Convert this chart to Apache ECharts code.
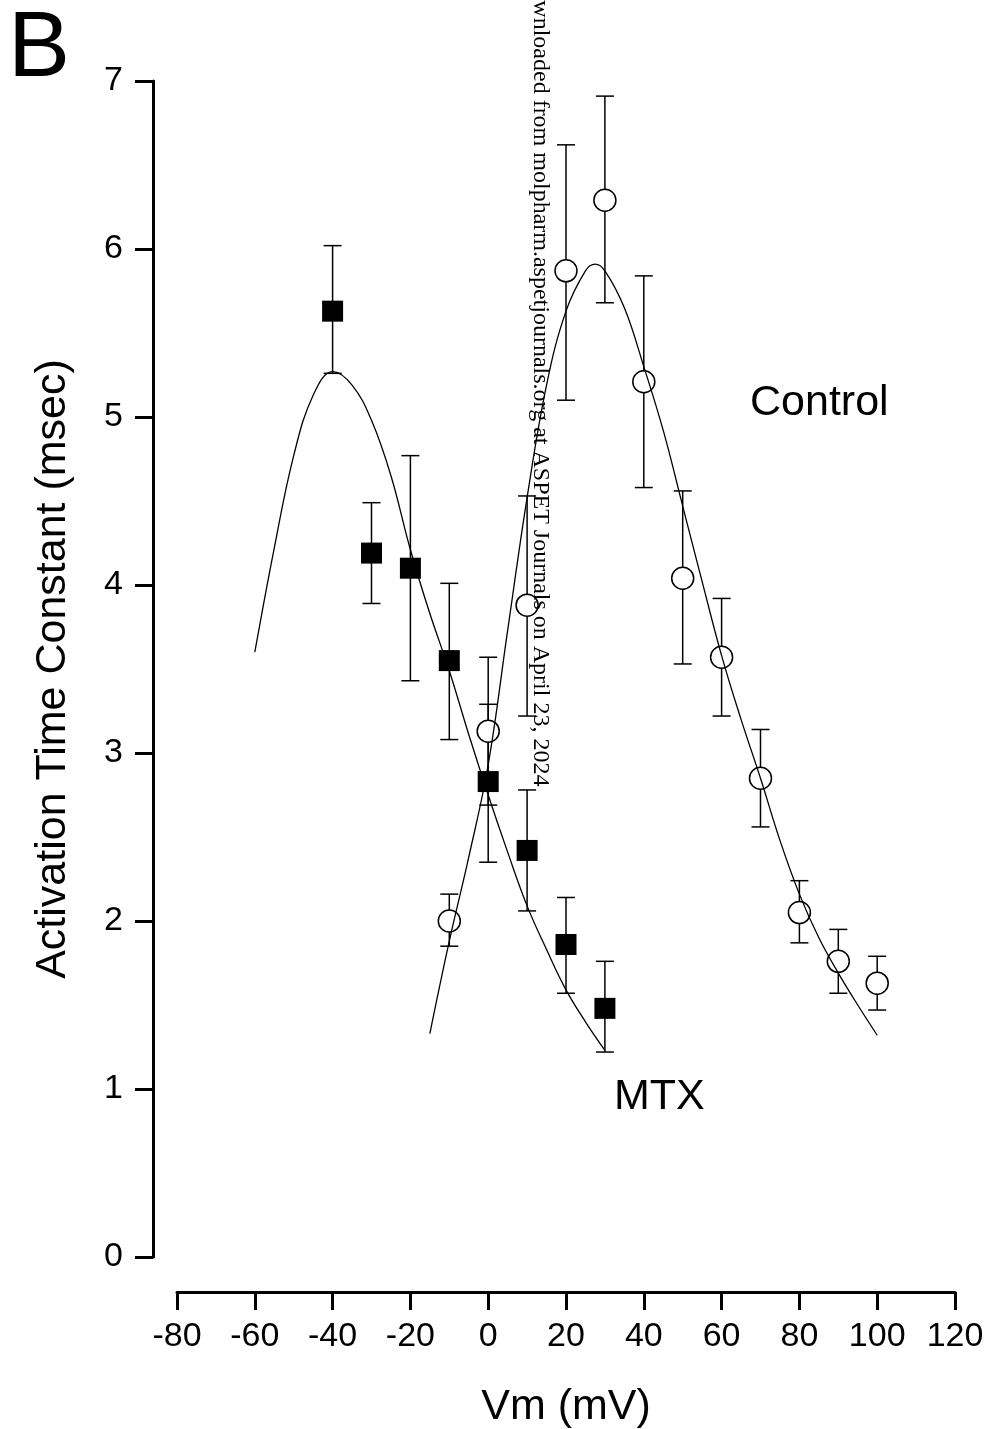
<!DOCTYPE html>
<html>
<head>
    <meta charset="utf-8">
    <title>Activation time constant vs Vm</title>
    <script src="https://cdn.jsdelivr.net/npm/echarts@6/dist/echarts.min.js"></script>
</head>
<body style="margin:0;background:#fff;">
<div id="main" style="width: 989px;height:1429px;"></div>
<script type="text/javascript">
    // MTX (filled squares)
    var mtxV = [-40, -30, -20, -10, 0, 10, 20, 30];
    var mtxTau = [5.63, 4.19, 4.10, 3.55, 2.83, 2.42, 1.86, 1.48];
    var mtxHi = [6.02, 4.49, 4.77, 4.01, 3.29, 2.78, 2.14, 1.76];
    var mtxLo = [5.26, 3.89, 3.43, 3.08, 2.35, 2.06, 1.57, 1.22];

    // Control (open circles)
    var ctlV = [-10, 0, 10, 20, 30, 40, 50, 60, 70, 80, 90, 100];
    var ctlTau = [2.00, 3.13, 3.88, 5.87, 6.29, 5.21, 4.04, 3.57, 2.85, 2.05, 1.76, 1.63];
    var ctlHi = [2.16, 3.57, 4.53, 6.62, 6.91, 5.84, 4.56, 3.92, 3.14, 2.24, 1.95, 1.79];
    var ctlLo = [1.85, 2.69, 3.22, 5.10, 5.68, 4.58, 3.53, 3.22, 2.56, 1.87, 1.57, 1.47];

    // fitted curves
    var mtxFitV = [-60, -55, -50, -45, -40, -35, -30, -25, -20, -15, -10, -5, 0, 5, 10, 15, 20, 25, 30];
    var mtxFitTau = [3.60, 4.22, 4.77, 5.13, 5.27, 5.19, 4.98, 4.65, 4.21, 3.83, 3.49, 3.11, 2.75, 2.41, 2.09, 1.83, 1.59, 1.40, 1.23];
    var ctlFitV = [-15, -10, -5, 0, 5, 10, 15, 20, 25, 27.5, 30, 35, 40, 45, 50, 55, 60, 65, 70, 75, 80, 85, 90, 95, 100];
    var ctlFitTau = [1.33, 1.88, 2.38, 2.93, 3.73, 4.52, 5.19, 5.63, 5.87, 5.91, 5.87, 5.65, 5.30, 4.92, 4.47, 4.02, 3.58, 3.20, 2.85, 2.48, 2.16, 1.90, 1.69, 1.50, 1.32];

    var xTicks = [-80, -60, -40, -20, 0, 20, 40, 60, 80, 100, 120];

    function zip(a, b) {
        return a.map(function (v, i) { return [v, b[i]]; });
    }
    function zip3(a, b, c) {
        return a.map(function (v, i) { return [v, b[i], c[i]]; });
    }

    var font = 'Liberation Sans, Arial, sans-serif';

    function renderErr(params, api) {
        var top = api.coord([api.value(0), api.value(1)]);
        var bot = api.coord([api.value(0), api.value(2)]);
        var w = 9;
        var st = { stroke: '#000', lineWidth: 1.5 };
        return {
            type: 'group',
            children: [
                { type: 'line', shape: { x1: top[0], y1: top[1], x2: bot[0], y2: bot[1] }, style: st },
                { type: 'line', shape: { x1: top[0] - w, y1: top[1], x2: top[0] + w, y2: top[1] }, style: st },
                { type: 'line', shape: { x1: bot[0] - w, y1: bot[1], x2: bot[0] + w, y2: bot[1] }, style: st }
            ]
        };
    }

    var myChart = echarts.init(document.getElementById('main'));

    var option = {
        animation: false,
        backgroundColor: '#fff',
        grid: { left: 177, right: 34, top: 81, bottom: 172, outerBoundsMode: 'none', containLabel: false },
        xAxis: {
            type: 'value',
            min: -80, max: 120, interval: 20,
            offset: 35,
            name: 'Vm (mV)',
            nameLocation: 'middle',
            nameGap: 94,
            nameTextStyle: { fontFamily: font, fontSize: 43, color: '#000' },
            axisLine: { onZero: false, lineStyle: { color: '#000', width: 3 } },
            axisTick: { inside: false, length: 18, lineStyle: { color: '#000', width: 3 } },
            axisLabel: {
                margin: 28, fontFamily: font, fontSize: 34, color: '#000',
                customValues: xTicks
            },
            splitLine: { show: false }
        },
        yAxis: {
            type: 'value',
            min: 0, max: 7, interval: 1,
            offset: 24,
            name: 'Activation Time Constant (msec)',
            nameLocation: 'middle',
            nameGap: 78,
            nameTextStyle: { fontFamily: font, fontSize: 43, color: '#000' },
            axisLine: { onZero: false, lineStyle: { color: '#000', width: 3 } },
            axisTick: { length: 18, lineStyle: { color: '#000', width: 3 } },
            axisLabel: { margin: 30, fontFamily: font, fontSize: 34, color: '#000' },
            splitLine: { show: false }
        },
        graphic: [
            { type: 'text', x: 8, y: 97, style: { text: 'B', font: '93px ' + font, fill: '#000', textVerticalAlign: 'bottom' } },
            { type: 'text', x: 750, y: 403, style: { text: 'Control', font: '43px ' + font, fill: '#000', textVerticalAlign: 'middle' } },
            { type: 'text', x: 614, y: 1097, style: { text: 'MTX', font: '43px ' + font, fill: '#000', textVerticalAlign: 'middle' } },
            {
                type: 'text', x: 540, y: -29, rotation: -Math.PI / 2, z: 100,
                style: {
                    text: 'Downloaded from molpharm.aspetjournals.org at ASPET Journals on April 23, 2024',
                    font: '24px Liberation Serif, Times New Roman, serif',
                    fill: '#000', textAlign: 'left', textVerticalAlign: 'middle'
                }
            }
        ],
        series: [
            {
                name: 'MTX err', type: 'custom', z: 1,
                renderItem: renderErr,
                data: zip3(mtxV, mtxHi, mtxLo)
            },
            {
                name: 'Control err', type: 'custom', z: 1,
                renderItem: renderErr,
                data: zip3(ctlV, ctlHi, ctlLo)
            },
            {
                name: 'MTX', type: 'scatter', z: 2,
                symbol: 'rect', symbolSize: 21,
                itemStyle: { color: '#000', opacity: 1 },
                data: zip(mtxV, mtxTau)
            },
            {
                name: 'Control', type: 'scatter', z: 2,
                symbol: 'circle', symbolSize: 22,
                itemStyle: { color: '#fff', borderColor: '#000', borderWidth: 1.5, opacity: 1 },
                data: zip(ctlV, ctlTau)
            },
            {
                name: 'MTX fit', type: 'line', z: 3,
                smooth: 0.4, showSymbol: false,
                lineStyle: { color: '#000', width: 1.3 },
                data: zip(mtxFitV, mtxFitTau)
            },
            {
                name: 'Control fit', type: 'line', z: 3,
                smooth: 0.4, showSymbol: false,
                lineStyle: { color: '#000', width: 1.3 },
                data: zip(ctlFitV, ctlFitTau)
            }
        ]
    };

    myChart.setOption(option);
</script>
</body>
</html>
